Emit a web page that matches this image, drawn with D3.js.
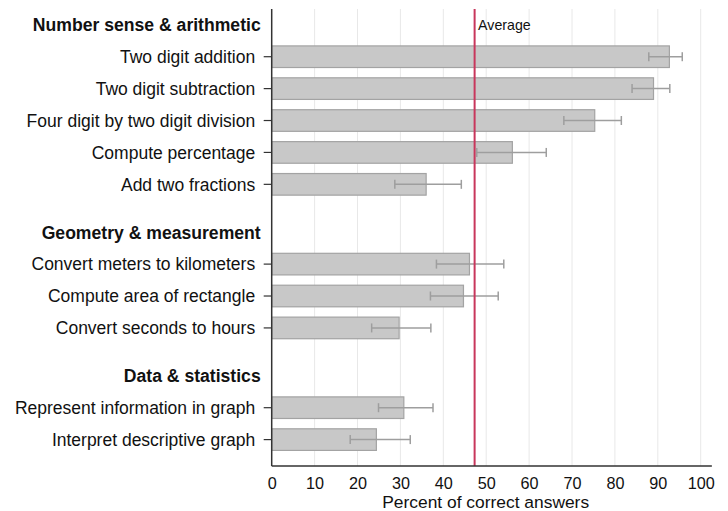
<!DOCTYPE html>
<html><head><meta charset="utf-8">
<script src="https://cdn.jsdelivr.net/npm/d3@7"></script>
<style>body{margin:0;background:#fff;}svg{display:block;font-family:"Liberation Sans",Arial,sans-serif;}</style>
</head><body><svg id="c" width="728" height="511"></svg>
<script>
const groups = ["Number sense & arithmetic","Geometry & measurement","Data & statistics"];
const groupPos = [0, 6.5, 11];
const categories = ["Two digit addition","Two digit subtraction","Four digit by two digit division","Compute percentage","Add two fractions","Convert meters to kilometers","Compute area of rectangle","Convert seconds to hours","Represent information in graph","Interpret descriptive graph"];
const catPos = [1,2,3,4,5,7.5,8.5,9.5,12,13];
const values = [92.7,89.0,75.3,56.1,36.0,46.1,44.7,29.7,30.8,24.4];
const lower = [87.9,84.0,68.1,47.8,28.7,38.4,37.0,23.3,24.9,18.3];
const upper = [95.7,92.8,81.5,64.0,44.2,54.1,52.8,37.1,37.6,32.3];
const average = 47.3;
const xTicks = [0,10,20,30,40,50,60,70,80,90,100];

const svg = d3.select("#c");
const x = d3.scaleLinear().domain([0,100]).range([271.7,700.7]);
const y = d3.scaleLinear().domain([0,13]).range([24.8,439.6]);
const plotTop = 9, plotBottom = 466, xEnd = x(102.6);

// gridlines
svg.append("g").selectAll("line").data(xTicks.slice(1)).join("line")
  .attr("x1",d=>x(d)).attr("x2",d=>x(d)).attr("y1",plotTop).attr("y2",plotBottom)
  .attr("stroke","#e8e8e8").attr("stroke-width",1);

const bh = 21.6;
svg.append("g").selectAll("rect").data(values).join("rect")
  .attr("x",x(0)).attr("y",(d,i)=>y(catPos[i])-bh/2)
  .attr("width",d=>x(d)-x(0)).attr("height",bh)
  .attr("fill","#c8c8c8").attr("stroke","#a3a3a3").attr("stroke-width",1.2);

// error bars
const eb = svg.append("g").attr("stroke","#9e9e9e").attr("stroke-width",1.5);
values.forEach((v,i)=>{
  const cy = y(catPos[i]);
  eb.append("line").attr("x1",x(lower[i])).attr("x2",x(upper[i])).attr("y1",cy).attr("y2",cy);
  eb.append("line").attr("x1",x(lower[i])).attr("x2",x(lower[i])).attr("y1",cy-4.5).attr("y2",cy+4.5);
  eb.append("line").attr("x1",x(upper[i])).attr("x2",x(upper[i])).attr("y1",cy-4.5).attr("y2",cy+4.5);
});

// average
svg.append("line").attr("x1",x(average)).attr("x2",x(average)).attr("y1",plotTop).attr("y2",plotBottom)
  .attr("stroke","#c8365c").attr("stroke-width",2);
svg.append("text").attr("x",x(average)+3.5).attr("y",y(0)+5).attr("font-size",14.2).attr("fill","#111").text("Average");

// axes
const xa = svg.append("g").attr("transform",`translate(0,${plotBottom})`)
  .call(d3.axisBottom(x).tickValues(xTicks).tickSize(0).tickPadding(11));
xa.select(".domain").remove();
xa.selectAll("text").attr("font-size",16.2).attr("fill","#111").attr("font-family","Liberation Sans, Arial, sans-serif");
svg.append("line").attr("x1",x(0)).attr("x2",xEnd).attr("y1",plotBottom).attr("y2",plotBottom).attr("stroke","#333").attr("stroke-width",1.5);
svg.append("line").attr("x1",x(0)).attr("x2",x(0)).attr("y1",plotTop).attr("y2",plotBottom).attr("stroke","#333").attr("stroke-width",1.5);

svg.append("text").attr("x",(x(0)+x(100))/2 - 0.5).attr("y",507.5).attr("text-anchor","middle")
  .attr("font-size",17.4).attr("fill","#111").text("Percent of correct answers");

// y labels
const ya = svg.append("g");
categories.forEach((c,i)=>{
  const cy = y(catPos[i]);
  ya.append("line").attr("x1",x(0)-8).attr("x2",x(0)).attr("y1",cy).attr("y2",cy).attr("stroke","#333").attr("stroke-width",1.2);
  ya.append("text").attr("x",x(0)-16.5).attr("y",cy).attr("dy","0.36em").attr("text-anchor","end")
    .attr("font-size",17.5).attr("fill","#111").text(c);
});
groups.forEach((g,i)=>{
  ya.append("text").attr("x",x(0)-11).attr("y",y(groupPos[i])).attr("dy","0.36em").attr("text-anchor","end")
    .attr("font-size",17.6).attr("font-weight","bold").attr("fill","#111").text(g);
});
</script></body></html>
